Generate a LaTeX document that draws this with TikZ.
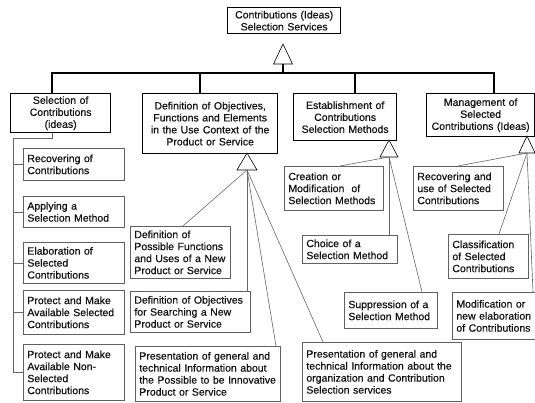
\documentclass[tikz,border=0pt]{standalone}
\usepackage{fontspec}
\setmainfont{Liberation Sans}[FakeBold=0.6]
\usetikzlibrary{calc}
\begin{document}
\begin{tikzpicture}[x=1pt,y=-1pt,
  every node/.style={font=\fontsize{10.5}{12}\selectfont, text=black!92},
  mainbox/.style={draw=black, line width=1.3pt, fill=white, inner xsep=3pt, inner ysep=0pt,
    align=center, anchor=north west},
  leafbox/.style={draw=black!62, line width=0.75pt, fill=white, inner xsep=4pt, inner ysep=0pt,
    align=left, anchor=north west},
  bus/.style={line width=1.3pt},
  link/.style={draw=black!60, line width=0.6pt},
  gen/.style={draw=black, line width=0.6pt, fill=white},
]
\useasboundingbox (0,0) rectangle (535,403);

% root service
\node[mainbox, minimum width=113pt, minimum height=26pt, text width=107pt] (root) at (227,7)
  {Contributions (Ideas)\\Selection Services};

% second level
\node[mainbox, minimum width=100pt, minimum height=39pt, text width=94pt] (sel) at (10,93)
  {Selection of\\Contributions\\(ideas)};
\node[mainbox, minimum width=135pt, minimum height=60pt, text width=129pt] (def) at (142,93)
  {Definition of Objectives,\\Functions and Elements\\in the Use Context of the\\Product or Service};
\node[mainbox, minimum width=103pt, minimum height=47pt, text width=97pt] (est) at (293,93)
  {Establishment of\\Contributions\\Selection Methods};
\node[mainbox, minimum width=108pt, minimum height=43pt, text width=102pt] (mgt) at (426,93)
  {Management of\\Selected\\Contributions (Ideas)};

% generalisation from the root
\draw[gen] (283,44) -- (292.5,64) -- (273.5,64) -- cycle;
\coordinate (tR) at (283,64);
\coordinate (hub) at (283,73);
\draw[bus] (tR) -- (hub);
\draw[bus] ($(sel.north west)+(42,0)$) |- (hub) -| ($(mgt.north west)+(68,0)$);
\draw[bus] ($(def.north west)+(58,0)$) -- ++(0,-20);
\draw[bus] ($(est.north west)+(62,0)$) -- ++(0,-20);

% selection of contributions: sub-services
\node[leafbox, minimum width=101pt, minimum height=32pt, text width=93pt] (rec) at (23,148)
  {Recovering of\\Contributions};
\node[leafbox, minimum width=101pt, minimum height=31pt, text width=93pt] (app) at (23,196)
  {Applying a\\Selection Method};
\node[leafbox, minimum width=101pt, minimum height=41pt, text width=93pt] (ela) at (23,242)
  {Elaboration of\\Selected\\Contributions};
\node[leafbox, minimum width=101pt, minimum height=44pt, text width=93pt] (pr1) at (23,290)
  {Protect and Make\\Available Selected\\Contributions};
\node[leafbox, minimum width=101pt, minimum height=56pt, text width=93pt] (pr2) at (23,344)
  {Protect and Make\\Available Non-\\Selected\\Contributions};

\coordinate (rail) at (13,138);
\draw[link] ($(sel.south west)+(42,0)$) |- (rail) -- (rail |- pr2.west) -- (pr2.west);
\foreach \b in {rec,app,ela,pr1}
  \draw[link] (rail |- \b.west) -- (\b.west);

% definition of objectives: sub-services
\node[leafbox, minimum width=100pt, minimum height=52pt, text width=92pt] (d1) at (130,226)
  {Definition of\\Possible Functions\\and Uses of a New\\Product or Service};
\node[leafbox, minimum width=120pt, minimum height=41pt, text width=112pt] (d2) at (130,291)
  {Definition of Objectives\\for Searching a New\\Product or Service};
\node[leafbox, minimum width=145pt, minimum height=55pt, text width=137pt] (d3) at (135,346)
  {Presentation of general and\\technical Information about\\the Possible to be Innovative\\Product or Service};
\node[leafbox, minimum width=159pt, minimum height=59pt, text width=151pt] (d4) at (302,342)
  {Presentation of general and\\technical Information about the\\organization and Contribution\\Selection services};

\draw[gen] (247,153) -- (257,170) -- (237,170) -- cycle;
\coordinate (tD) at (247,170);
\draw[link] (tD) -- ($(d1.north west)+(53,0)$);
\draw[link] (tD) -- ($(d2.north west)+(117,0)$);
\draw[link] (tD) -- ($(d3.north west)+(141,0)$);
\draw[link] (tD) -- ($(d4.north west)+(21,0)$);

% establishment of selection methods: sub-services
\node[leafbox, minimum width=99pt, minimum height=44pt, text width=91pt] (e1) at (284,166)
  {Creation or\\Modification~ of\\Selection Methods};
\node[leafbox, minimum width=95pt, minimum height=28pt, text width=87pt] (e2) at (302,235)
  {Choice of a\\Selection Method};
\node[leafbox, minimum width=93pt, minimum height=36pt, text width=85pt] (e3) at (344,292)
  {Suppression of a\\Selection Method};

\draw[gen] (389,140) -- (398,157) -- (380,157) -- cycle;
\coordinate (tE) at (389,157);
\draw[link] (tE) -- ($(e1.north west)+(56,0)$);
\draw[link] (tE) -- ($(e2.north west)+(87,0)$);
\draw[link] (tE) -- ($(e3.north west)+(78,0)$);

% management of selected contributions: sub-services
\node[leafbox, minimum width=90pt, minimum height=44pt, text width=82pt] (m1) at (413,166)
  {Recovering and\\use of Selected\\Contributions};
\node[leafbox, minimum width=80pt, minimum height=44pt, text width=72pt] (m2) at (448,234)
  {Classification\\of Selected\\Contributions};
\node[leafbox, minimum width=90pt, minimum height=47pt, text width=82pt] (m3) at (452,292)
  {Modification or\\new elaboration\\of Contributions};

\draw[gen] (527,136) -- (535,153) -- (519,153) -- cycle;
\coordinate (tM) at (527,153);
\draw[link] (tM) -- ($(m1.north west)+(45,0)$);
\draw[link] (tM) -- ($(m2.north west)+(51,0)$);
\draw[link] (tM) -- ($(m3.north west)+(81,0)$);
\end{tikzpicture}
\end{document}
